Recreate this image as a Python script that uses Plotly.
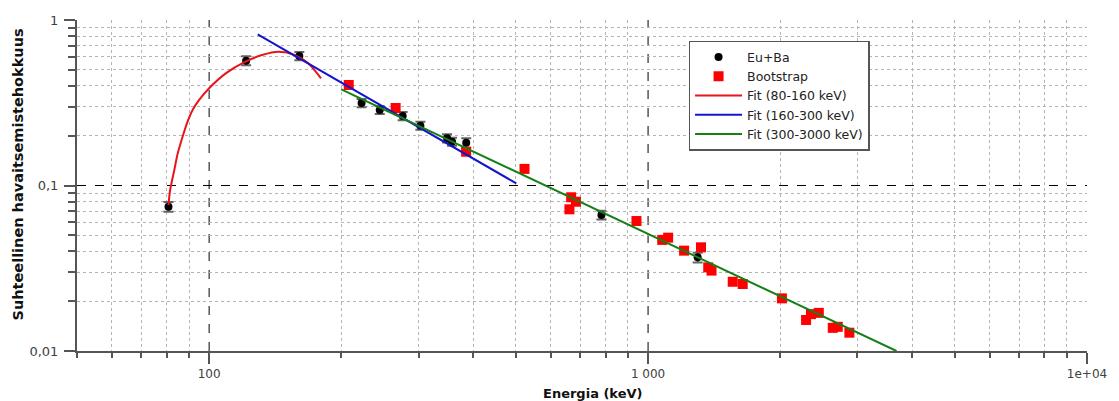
import plotly.graph_objects as go

# ---- data ----
eu_energy = [80.8, 121.4, 160.5, 222.5, 244.7, 276.0, 302.9, 348.4, 357.6, 385.2, 783.0, 1297.0]
eu_eff = [0.0744, 0.568, 0.606, 0.315, 0.286, 0.263, 0.230, 0.193, 0.184, 0.181, 0.0663, 0.0368]
eu_err = [0.005, 0.035, 0.035, 0.018, 0.016, 0.015, 0.013, 0.011, 0.010, 0.012, 0.004, 0.0025]

boot_energy = [208, 266, 385, 523, 662, 668, 685, 941, 1077, 1111, 1208, 1320, 1371, 1395,
               1559, 1643, 2018, 2291, 2350, 2449, 2635, 2705, 2875]
boot_eff = [0.405, 0.294, 0.160, 0.126, 0.0718, 0.0849, 0.0798, 0.061, 0.0469, 0.0484, 0.0404,
            0.0423, 0.032, 0.0306, 0.0262, 0.0254, 0.0208, 0.0154, 0.0167, 0.017, 0.0138, 0.014, 0.0129]

fit1_energy = [80.8, 81.5, 83.3, 84.8, 87.0, 89.3, 91.7, 94.9, 100.0, 109.1, 121.0, 131.9,
               143.9, 157.0, 168.2, 179.8]
fit1_eff = [0.0762, 0.0939, 0.124, 0.156, 0.197, 0.243, 0.286, 0.329, 0.387, 0.476, 0.560,
            0.614, 0.643, 0.614, 0.547, 0.444]

fit2_energy = [129, 501]
fit2_eff = [0.819, 0.103]

fit3_energy = [200, 3681]
fit3_eff = [0.381, 0.01]

x_tickvals = [100, 1000, 10000]
x_ticktext = ["100", "1 000", "1e+04"]
y_tickvals = [0.01, 0.1, 1]
y_ticktext = ["0,01", "0,1", "1"]
x_minor = [50, 60, 70, 80, 90, 200, 300, 400, 500, 600, 700, 800, 900,
           2000, 3000, 4000, 5000, 6000, 7000, 8000, 9000]
y_minor = [0.02, 0.03, 0.04, 0.05, 0.06, 0.07, 0.08, 0.09,
           0.2, 0.3, 0.4, 0.5, 0.6, 0.7, 0.8, 0.9]

FONT = "DejaVu Sans"
AX = "#555555"

fig = go.Figure()
fig.add_trace(go.Scatter(
    x=eu_energy, y=eu_eff, mode="markers", name="Eu+Ba",
    marker=dict(color="black", size=8),
    error_y=dict(type="data", array=eu_err, color="#666666", thickness=2, width=5),
))
fig.add_trace(go.Scatter(
    x=boot_energy, y=boot_eff, mode="markers", name="Bootstrap",
    marker=dict(color="#ff0000", size=10, symbol="square"),
))
fig.add_trace(go.Scatter(
    x=fit1_energy, y=fit1_eff, mode="lines", name="Fit (80-160 keV)",
    line=dict(color="#e8141b", width=2, shape="spline", smoothing=0.8),
))
fig.add_trace(go.Scatter(
    x=fit2_energy, y=fit2_eff, mode="lines", name="Fit (160-300 keV)",
    line=dict(color="#1414cc", width=2),
))
fig.add_trace(go.Scatter(
    x=fit3_energy, y=fit3_eff, mode="lines", name="Fit (300-3000 keV)",
    line=dict(color="#168016", width=2),
))

# dashed major grid lines (decades inside the plot)
for xv in [100, 1000]:
    fig.add_shape(type="line", xref="x", yref="paper", x0=xv, x1=xv, y0=0, y1=1,
                  line=dict(color="black", width=1, dash="dash"), layer="below")
fig.add_shape(type="line", xref="paper", yref="y", x0=0, x1=1, y0=0.1, y1=0.1,
              line=dict(color="black", width=1, dash="dash"), layer="below")

fig.update_xaxes(
    type="log", range=[1.69897, 4.0],
    tickvals=x_tickvals, ticktext=x_ticktext,
    ticks="outside", ticklen=11, tickwidth=1.5, tickcolor=AX,
    showline=True, linecolor=AX, linewidth=2,
    showgrid=False, zeroline=False,
    tickfont=dict(family=FONT, size=12, color="#404040"),
    minor=dict(tickvals=x_minor, ticks="outside", ticklen=5, tickwidth=1.5, tickcolor=AX,
               showgrid=True, gridcolor="#b4b4b4", griddash="dot", gridwidth=1),
)
fig.update_yaxes(
    type="log", range=[-2, 0],
    tickvals=y_tickvals, ticktext=y_ticktext,
    ticks="outside", ticklen=11, tickwidth=1.5, tickcolor=AX,
    showline=True, linecolor=AX, linewidth=2,
    showgrid=False, zeroline=False,
    tickfont=dict(family=FONT, size=13, color="#404040"),
    ticklabelstandoff=3,
    minor=dict(tickvals=y_minor, ticks="outside", ticklen=7, tickwidth=1.5, tickcolor=AX,
               showgrid=True, gridcolor="#b4b4b4", griddash="dot", gridwidth=1),
)

fig.add_annotation(text="<b>Energia (keV)</b>", xref="paper", yref="paper",
                   x=0.5103, y=-0.127, xanchor="center", yanchor="middle", showarrow=False,
                   font=dict(family=FONT, size=13, color="#111111"))
fig.add_annotation(text="<b>Suhteellinen havaitsemistehokkuus</b>", xref="paper", yref="paper",
                   x=-0.0589, y=0.5317, xanchor="center", yanchor="middle", showarrow=False,
                   textangle=-90, font=dict(family=FONT, size=14.5, color="#111111"))

fig.update_layout(
    width=1119, height=401,
    margin=dict(l=77, r=23, t=20, b=50),
    plot_bgcolor="white", paper_bgcolor="white",
    font=dict(family=FONT, size=12, color="#222222"),
    legend=dict(x=0.6055, y=0.937, xanchor="left", yanchor="top",
                bgcolor="white", bordercolor="#555555", borderwidth=1.5,
                font=dict(family=FONT, size=12.5, color="#222222"),
                itemwidth=47, tracegroupgap=0),
    showlegend=True,
)

# remove the default page margin so the figure fills the window exactly
fig.write_html("out.html",
               config={"displayModeBar": False},
               post_script="document.body.style.margin='0';document.body.style.overflow='hidden';")
